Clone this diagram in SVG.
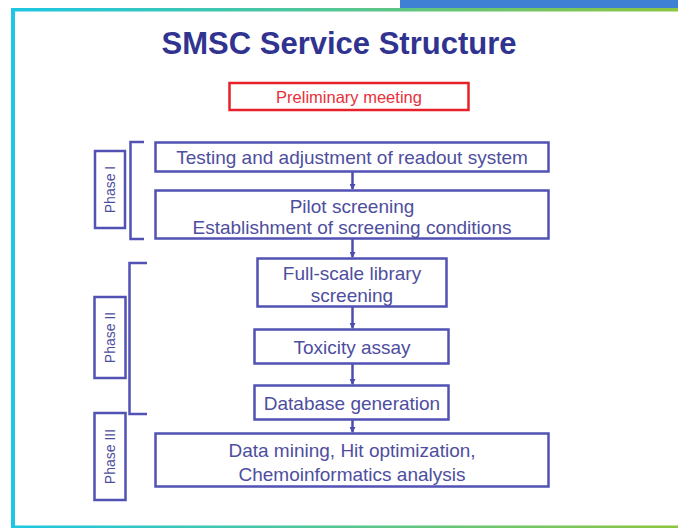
<svg xmlns="http://www.w3.org/2000/svg" width="678" height="528" viewBox="0 0 678 528">
<defs>
<linearGradient id="gb" x1="0" y1="0" x2="1" y2="0">
<stop offset="0" stop-color="#1dc6e3"/>
<stop offset="1" stop-color="#8dc63f"/>
</linearGradient>
<marker id="ah" viewBox="0 0 6 6" refX="5" refY="3" markerWidth="2.4" markerHeight="2.4" orient="auto">
<path d="M0,0 L6,3 L0,6 z" fill="#4d4db0"/>
</marker>
</defs>
<style>
.box{fill:#fff;stroke:#5252b4;stroke-width:2.5}
.t{font-family:"Liberation Sans",Arial,sans-serif;font-size:19px;fill:#4e4e9e;text-anchor:middle}
.ph{font-family:"Liberation Sans",Arial,sans-serif;font-size:14px;fill:#4e4e9e;text-anchor:middle}
.con{stroke:#4d4db0;stroke-width:2.5;fill:none}
.br{stroke:#5252b4;stroke-width:2.5;fill:none}
</style>
<rect x="0" y="0" width="678" height="528" fill="#fff"/>
<rect x="400" y="0" width="278" height="8" fill="#3f80d4"/>
<rect x="11" y="8" width="667" height="3.5" fill="url(#gb)"/>
<rect x="11" y="8" width="4" height="520" fill="#1dc6e3"/>
<rect x="11" y="525.5" width="667" height="2.5" fill="url(#gb)"/>
<text x="339" y="54" font-family="Liberation Sans,Arial,sans-serif" font-size="31" font-weight="bold" fill="#30338f" text-anchor="middle">SMSC Service Structure</text>
<g id="prelim">
<rect x="229.5" y="83" width="239" height="27" fill="#fff" stroke="#e8202a" stroke-width="2.5"/>
<text x="349" y="103" font-family="Liberation Sans,Arial,sans-serif" font-size="16.5" fill="#e8303a" text-anchor="middle">Preliminary meeting</text>
</g>
<g id="phase1">
<path class="br" d="M144,142 H130.5 V239 H144"/>
<rect class="box" x="95" y="151" width="30" height="77"/>
<text class="ph" transform="translate(115,189.5) rotate(-90)">Phase I</text>
</g>
<g id="phase2">
<path class="br" d="M147,263 H129.5 V414 H147"/>
<rect class="box" x="94.5" y="297" width="31" height="81"/>
<text class="ph" transform="translate(115,337.5) rotate(-90)">Phase II</text>
</g>
<g id="phase3">
<rect class="box" x="94.5" y="413" width="31" height="87"/>
<text class="ph" transform="translate(115,456.5) rotate(-90)">Phase III</text>
</g>
<g id="connectors">
<line class="con" x1="352.5" y1="172" x2="352.5" y2="189" marker-end="url(#ah)"/>
<line class="con" x1="352.5" y1="239" x2="352.5" y2="257" marker-end="url(#ah)"/>
<line class="con" x1="352.5" y1="307" x2="352.5" y2="328" marker-end="url(#ah)"/>
<line class="con" x1="352.5" y1="364" x2="352.5" y2="384" marker-end="url(#ah)"/>
<line class="con" x1="352.5" y1="420" x2="352.5" y2="432" marker-end="url(#ah)"/>
</g>
<g id="n1">
<rect class="box" x="155.5" y="142.5" width="393" height="29"/>
<text class="t" x="352" y="164">Testing and adjustment of readout system</text>
</g>
<g id="n2">
<rect class="box" x="155.5" y="190.5" width="393" height="48"/>
<text class="t" x="352" y="213">Pilot screening</text>
<text class="t" x="352" y="234">Establishment of screening conditions</text>
</g>
<g id="n3">
<rect class="box" x="257.5" y="258.5" width="189" height="48"/>
<text class="t" x="352" y="280">Full-scale library</text>
<text class="t" x="352" y="302">screening</text>
</g>
<g id="n4">
<rect class="box" x="254.5" y="329.5" width="194" height="34"/>
<text class="t" x="352" y="354">Toxicity assay</text>
</g>
<g id="n5">
<rect class="box" x="254.5" y="385.5" width="194" height="34"/>
<text class="t" x="352" y="410">Database generation</text>
</g>
<g id="n6">
<rect class="box" x="155.5" y="433.5" width="393" height="53"/>
<text class="t" x="352" y="457">Data mining, Hit optimization,</text>
<text class="t" x="352" y="481">Chemoinformatics analysis</text>
</g>
</svg>
